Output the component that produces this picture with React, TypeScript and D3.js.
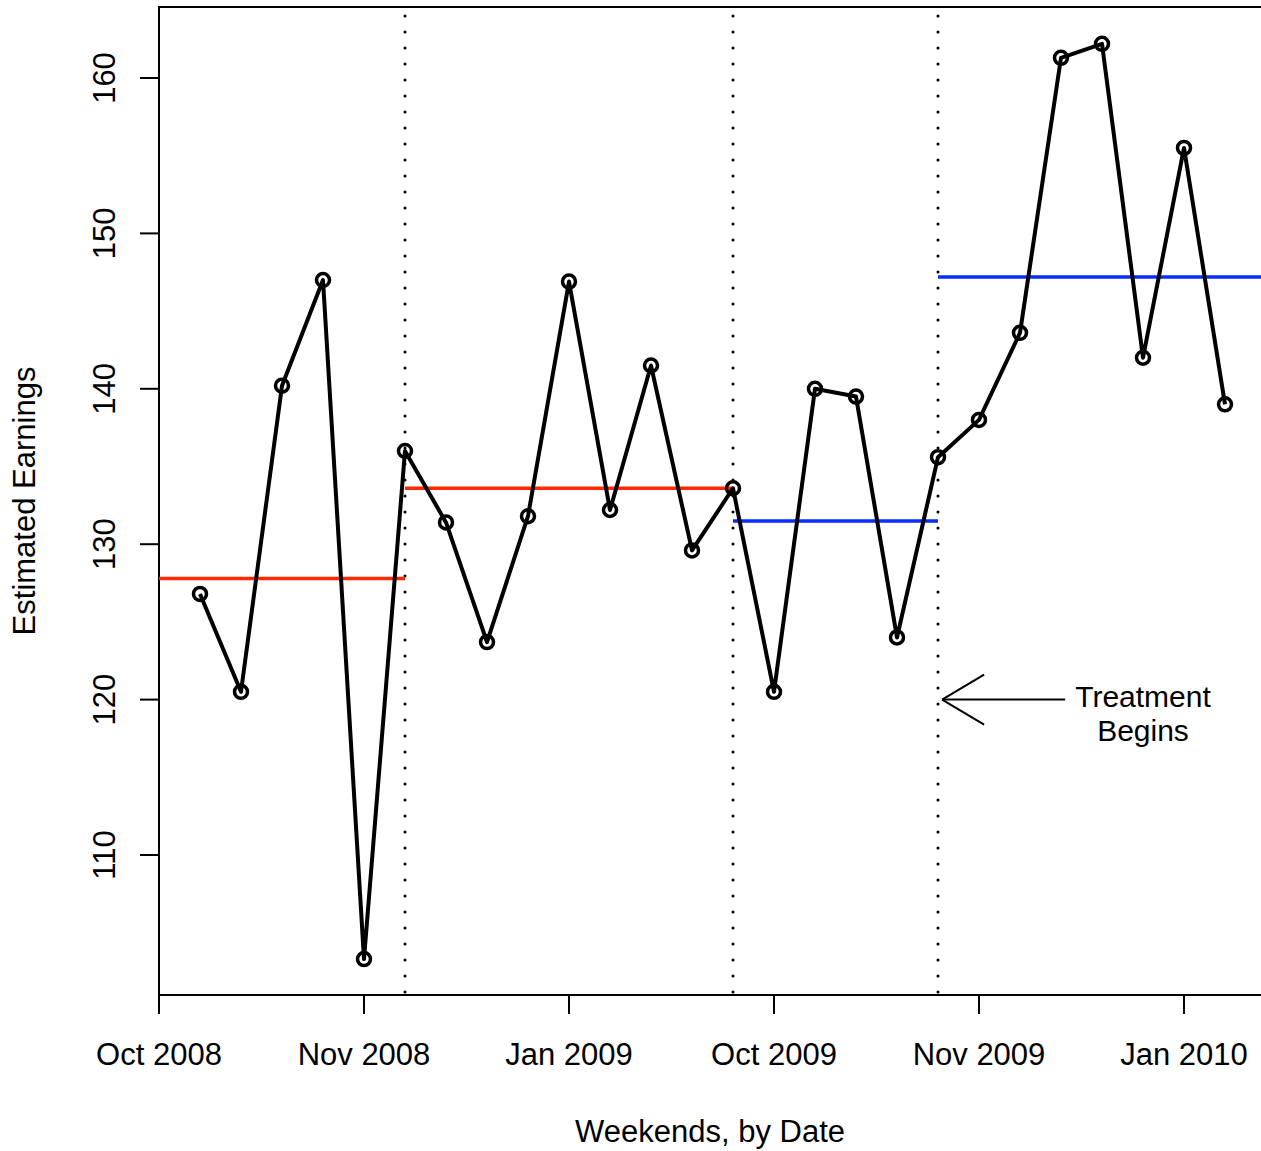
import React from "react";
import * as d3 from "d3";

const weekIndex = [1, 2, 3, 4, 5, 6, 7, 8, 9, 10, 11, 12, 13, 14, 15, 16, 17, 18, 19, 20, 21, 22, 23, 24, 25, 26];
const earnings = [126.8, 120.5, 140.2, 147.0, 103.3, 136.0, 131.4, 123.7, 131.8, 146.9, 132.2, 141.5, 129.6, 133.6, 120.5, 140.0, 139.5, 124.0, 135.6, 138.0, 143.6, 161.3, 162.2, 142.0, 155.5, 139.0];
const tickPositions = [0, 5, 10, 15, 20, 25];
const tickLabels = ["Oct 2008", "Nov 2008", "Jan 2009", "Oct 2009", "Nov 2009", "Jan 2010"];
const yTicks = [110, 120, 130, 140, 150, 160];
const breakPoints = [6, 14, 19];
const meanSegments = [
  { x0: 0, x1: 6, value: 127.8, color: "#ff2a00" },
  { x0: 6, x1: 14, value: 133.6, color: "#ff2a00" },
  { x0: 14, x1: 19, value: 131.5, color: "#0a2cff" },
  { x0: 19, x1: 27.5, value: 147.2, color: "#0a2cff" },
];
const annotation = { tipX: 19.1, tailX: 22.1, y: 120, lines: ["Treatment", "Begins"], textX: 24.0 };

const W = 1261;
const H = 1151;
const left = 159;
const right = 1262;
const top = 7;
const bottom = 995;
const FONT = "'Liberation Sans', Arial, Helvetica, sans-serif";
const FS = 31;

export default function App() {
  const x = d3.scaleLinear().domain([0, 25]).range([159, 1184]);
  const y = d3.scaleLinear().domain([110, 160]).range([855, 78]);
  const pts = weekIndex.map((w, i) => [x(w), y(earnings[i])] as [number, number]);
  const line = d3.line()(pts) || "";
  const ax = x(annotation.tipX);
  const ay = y(annotation.y);
  return (
    <svg width={W} height={H} style={{ position: "absolute", left: 0, top: 0, background: "#fff" }} fontFamily={FONT}>
      <rect x={0} y={0} width={W} height={H} fill="#fff" />
      {/* plot box */}
      <rect x={left} y={top} width={right - left} height={bottom - top} fill="none" stroke="#000" strokeWidth={2} />
      {/* dotted vertical lines */}
      {breakPoints.map((b) => (
        <line key={b} x1={x(b)} x2={x(b)} y1={top} y2={bottom} stroke="#000" strokeWidth={3} strokeDasharray="0.1 15.9" strokeLinecap="round" strokeDashoffset={-9} />
      ))}
      {/* mean lines */}
      {meanSegments.map((s, i) => (
        <line key={i} x1={x(s.x0)} x2={Math.min(x(s.x1), right)} y1={y(s.value)} y2={y(s.value)} stroke={s.color} strokeWidth={3.5} />
      ))}
      {/* data line */}
      <path d={line} fill="none" stroke="#000" strokeWidth={4} strokeLinejoin="round" />
      {pts.map((p, i) => (
        <circle key={i} cx={p[0]} cy={p[1]} r={6.5} fill="none" stroke="#000" strokeWidth={3.5} />
      ))}
      {/* x axis ticks */}
      {tickPositions.map((t, i) => (
        <g key={t}>
          <line x1={x(t)} x2={x(t)} y1={bottom} y2={bottom + 19} stroke="#000" strokeWidth={2} />
          <text x={x(t)} y={1065} textAnchor="middle" fontSize={FS}>{tickLabels[i]}</text>
        </g>
      ))}
      {/* y axis ticks */}
      {yTicks.map((t) => (
        <g key={t}>
          <line x1={left - 19} x2={left} y1={y(t)} y2={y(t)} stroke="#000" strokeWidth={2} />
          <text transform={`translate(115,${y(t)}) rotate(-90)`} textAnchor="middle" fontSize={FS}>{t}</text>
        </g>
      ))}
      {/* axis titles */}
      <text x={(left + 1261) / 2} y={1142} textAnchor="middle" fontSize={FS}>Weekends, by Date</text>
      <text transform={`translate(35,${(top + bottom) / 2}) rotate(-90)`} textAnchor="middle" fontSize={FS}>Estimated Earnings</text>
      {/* annotation arrow */}
      <line x1={x(annotation.tailX)} x2={ax} y1={ay} y2={ay} stroke="#000" strokeWidth={2} />
      <line x1={ax} y1={ay} x2={ax + 42} y2={ay - 25} stroke="#000" strokeWidth={2} />
      <line x1={ax} y1={ay} x2={ax + 42} y2={ay + 25} stroke="#000" strokeWidth={2} />
      {annotation.lines.map((l, i) => (
        <text key={l} x={x(annotation.textX)} y={ay + 7 + i * 34} textAnchor="middle" fontSize={30}>{l}</text>
      ))}
    </svg>
  );
}
